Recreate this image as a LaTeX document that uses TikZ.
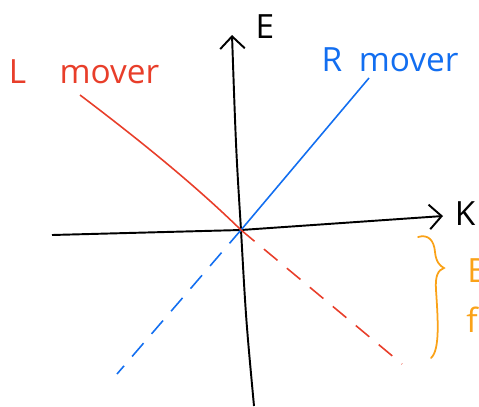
\documentclass[tikz,border=0pt]{standalone}
\usepackage{fontspec}
\setmainfont{Open Sans}
\usetikzlibrary{arrows.meta}
\definecolor{moverred}{RGB}{232,62,42}
\definecolor{moverblue}{RGB}{18,110,240}
\definecolor{braceorange}{RGB}{250,162,24}
\tikzset{
  axis/.style={line width=1.1pt,-{Straight Barb[length=7pt,width=14pt,line width=1.1pt]}},
  mover/.style={line width=0.9pt},
  ghost/.style={line width=0.9pt,dash pattern=on 10pt off 7pt},
  hand/.style={font=\fontsize{19}{21}\selectfont,inner sep=0pt}
}
\begin{document}
\begin{tikzpicture}[x=0.02cm,y=-0.02cm]
\useasboundingbox (0,0) rectangle (479,406);
% axes
\coordinate (O) at (241,230);
\coordinate (Kl) at (52,235);
\coordinate (Kr) at (443,216);
\coordinate (Eb) at (254,406);
\coordinate (Et) at (232,35);
\draw[axis] (Kl) -- (O) -- (Kr);
\draw[axis] (Eb) .. controls (246,320) .. (O) .. controls (236,150) .. (Et);
\node[hand] (E) at (265,27) {E};
\node[hand] (K) at (465,214) {K};
% right mover
\coordinate (Rtop) at (369,78);
\coordinate (Rbot) at (117,374);
\draw[mover,moverblue] (O) -- (Rtop);
\draw[ghost,moverblue] (O) -- (Rbot);
\node[hand,text=moverblue] (Rlab) at (390,60) {R\enspace mover};
% left mover
\coordinate (Ltop) at (80,95);
\coordinate (Lbot) at (402,364);
\draw[mover,moverred] (Ltop) .. controls (150,148) and (200,190) .. (O);
\draw[ghost,moverred] (O) -- (Lbot);
\node[hand,text=moverred] (Llab) at (84,72) {L\quad mover};
% brace
\draw[braceorange,line width=1pt,line cap=round]
  (418,237) .. controls (428,234) and (434,240) .. (435,252)
  .. controls (436,262) and (440,266) .. (444,268)
  .. controls (438,270) and (435,276) .. (436,290)
  .. controls (438,320) and (440,350) .. (431,358);
\node[hand,text=braceorange,anchor=west] (B) at (467,271) {B};
\node[hand,text=braceorange,anchor=west] (f) at (466,320) {f};
\end{tikzpicture}
\end{document}
